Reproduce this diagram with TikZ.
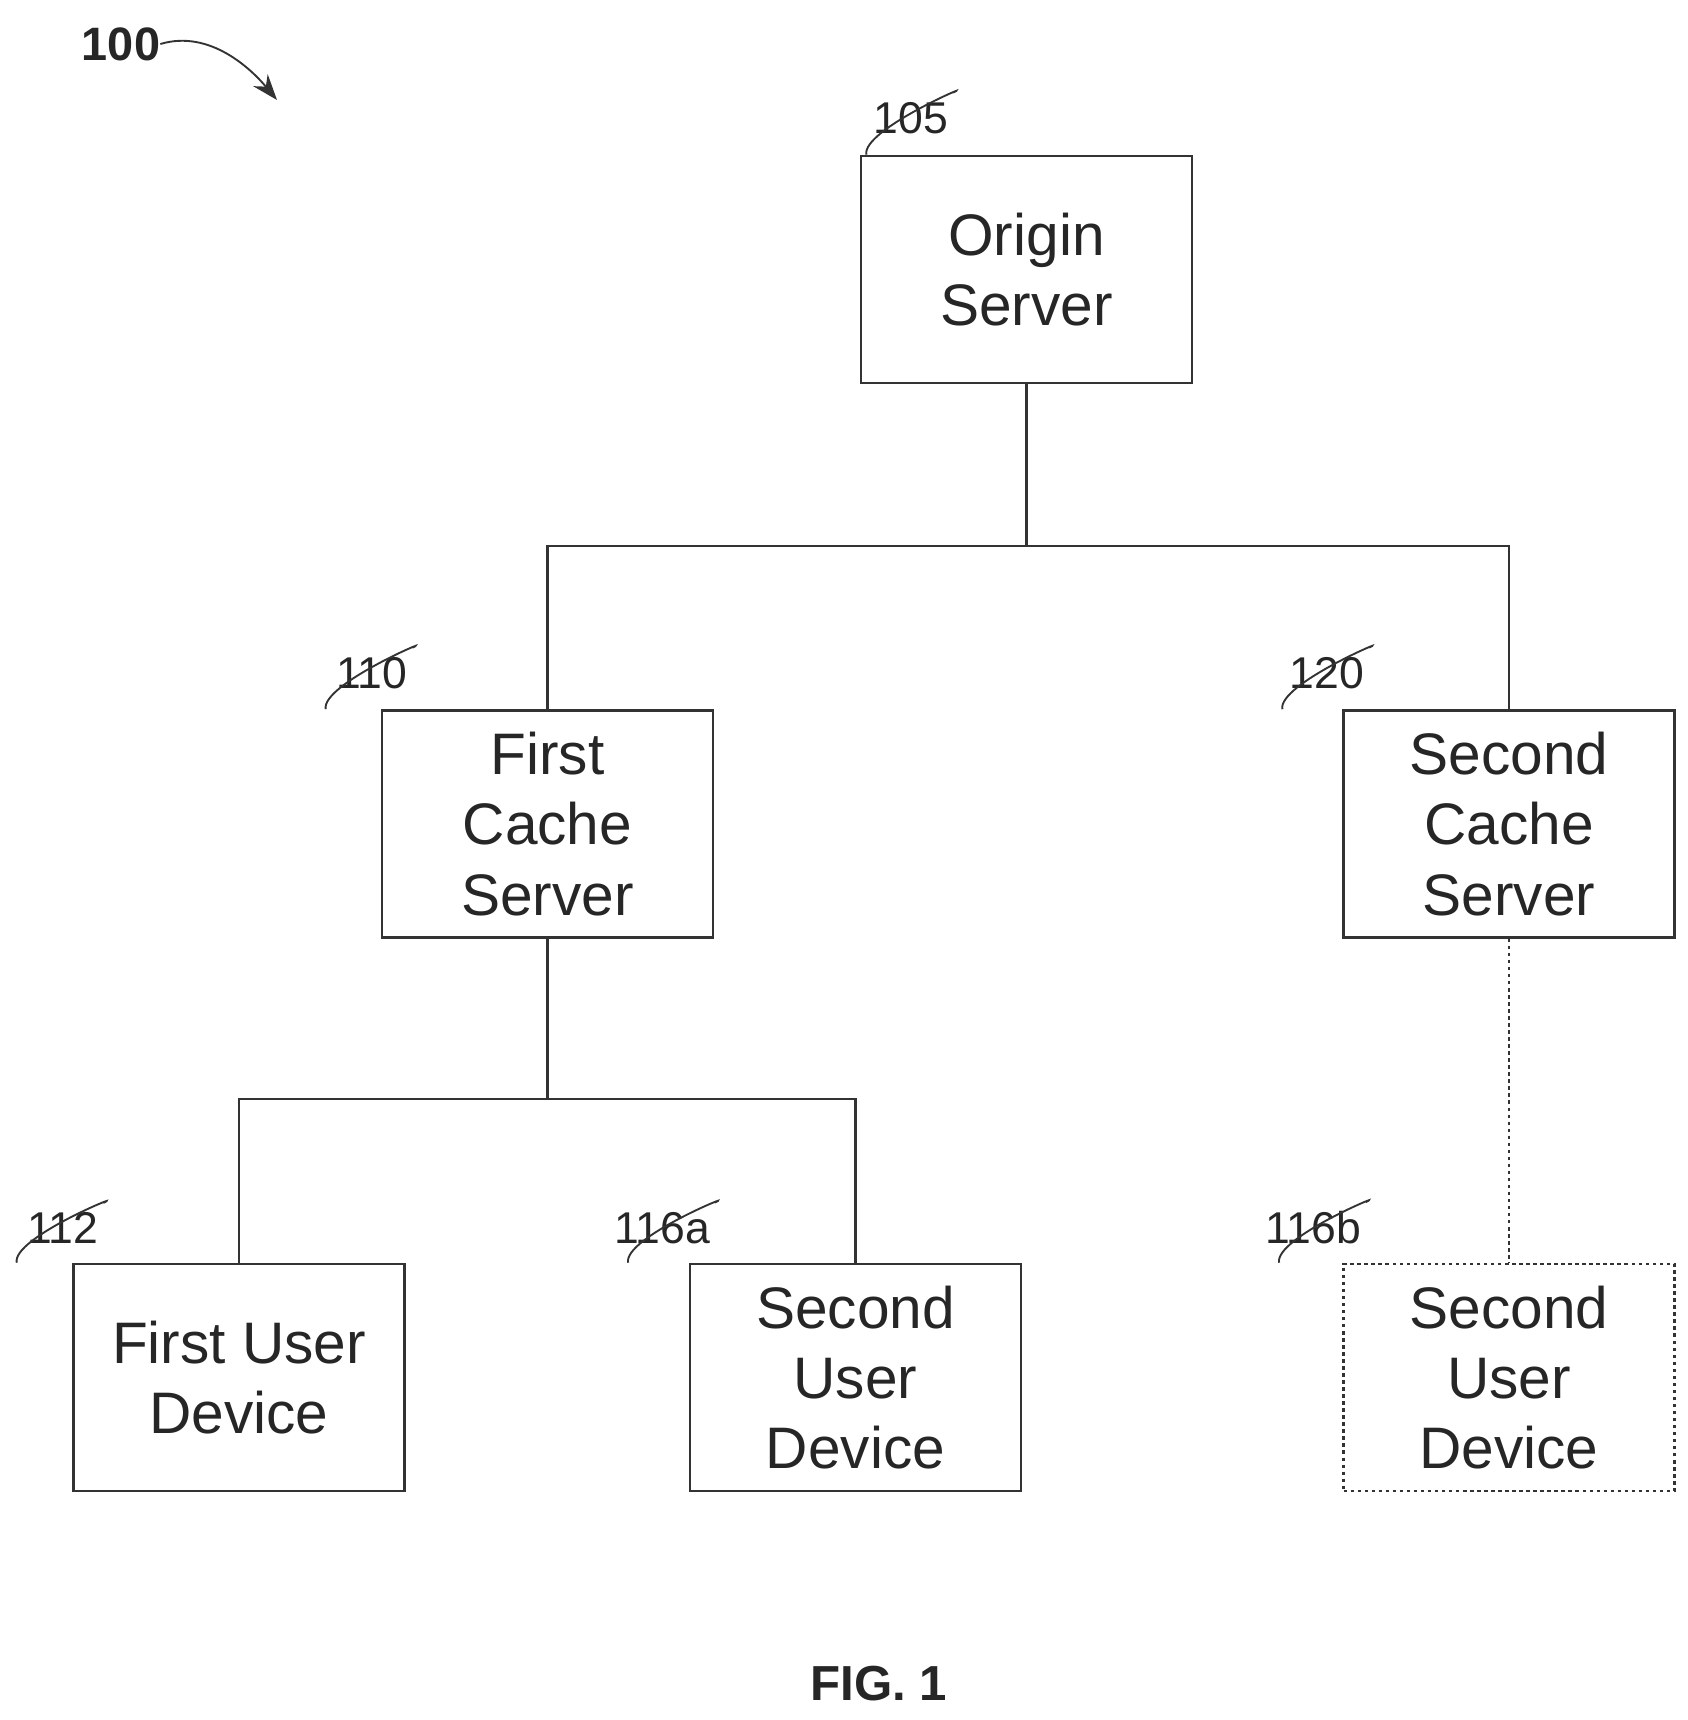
\documentclass[tikz,border=0pt]{standalone}
\usepackage{fontspec}
\setmainfont{Liberation Sans}
\usetikzlibrary{arrows.meta}
\begin{document}
\begin{tikzpicture}[x=0.3mm,y=-0.3mm,
  box/.style={draw=black!80,line width=2.2pt,minimum width=331*0.3mm,minimum height=227*0.3mm,align=center,font=\fontsize{50}{60}\selectfont,text=black!85,inner sep=0pt},
  ln/.style={draw=black!80,line width=2.2pt},
  lbl/.style={font=\fontsize{38}{40}\selectfont,text=black!85,inner sep=0pt},
  lead/.style={draw=black!80,line width=1.6pt}]
\useasboundingbox (0,0) rectangle (1688,1720);
\node[box] (o) at (1026.5,269.5) {Origin\\Server};
\node[box] (c1) at (547.5,824) {First\\Cache\\Server};
\node[box] (c2) at (1509,824) {Second\\Cache\\Server};
\node[box] (u1) at (239,1377.5) {First User\\Device};
\node[box] (u2) at (855.5,1377.5) {Second\\User\\Device};
\node[box,dashed] (u3) at (1509,1377.5) {Second\\User\\Device};
\coordinate (b1) at (1026.5,546);
\coordinate (b2) at (547.5,1099);
\draw[ln] (o.south) -- (b1) (c1.north) |- (b1) -| (c2.north);
\draw[ln] (c1.south) -- (b2) (u1.north) |- (b2) -| (u2.north);
\draw[ln,dashed] (c2.south) -- (u3.north);
\node[lbl] (l105) at (911,118) {105};
\node[lbl] (l110) at (372,673) {110};
\node[lbl] (l120) at (1327,673) {120};
\node[lbl] (l112) at (63,1228) {112};
\node[lbl] (l116a) at (662,1228) {116a};
\node[lbl] (l116b) at (1313,1228) {116b};
\foreach \l/\b in {l105/o,l110/c1,l120/c2,l112/u1,l116a/u2,l116b/u3}{
  \draw[lead] ([xshift=4pt,yshift=8pt]\l.north east) .. controls +(25,-12) and +(-5,-25) .. ([xshift=-70]\b.north -| \l.east) ;
}
\node[font=\bfseries\fontsize{40}{40}\selectfont,text=black!85,inner sep=0pt] (l100) at (121,44) {100};
\coordinate (a100) at (277,100);
\draw[lead,-{Stealth[length=22pt,width=16pt]}] (l100.east) .. controls +(50,-15) and +(-25,-30) .. (a100);
\node[font=\bfseries\fontsize{42}{42}\selectfont,text=black!85] (fig) at (879,1684) {FIG. 1};
\end{tikzpicture}
\end{document}
